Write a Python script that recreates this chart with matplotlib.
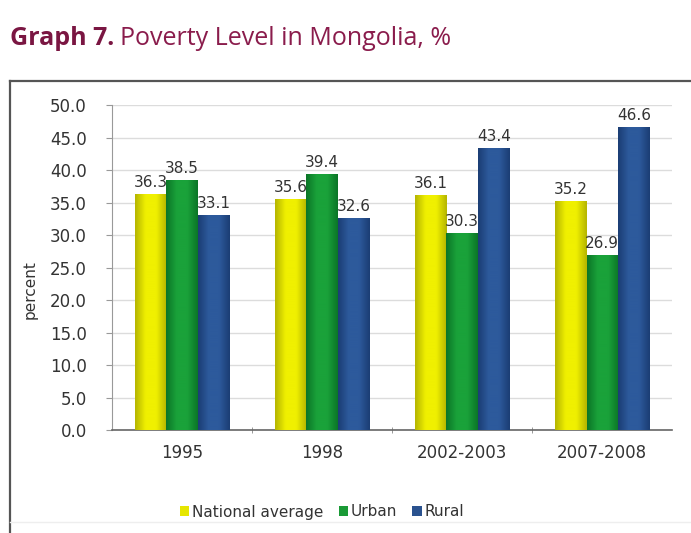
import matplotlib
matplotlib.use("Agg")
import matplotlib.pyplot as plt
import numpy as np
from matplotlib.colors import LinearSegmentedColormap
from matplotlib.lines import Line2D
from matplotlib.patches import Patch

# Poverty headcount by survey year
periods = ["1995", "1998", "2002-2003", "2007-2008"]
national = [36.3, 35.6, 36.1, 35.2]
urban = [38.5, 39.4, 30.3, 26.9]
rural = [33.1, 32.6, 43.4, 46.6]
series_names = ["National average", "Urban", "Rural"]

# (edge, middle) shades for each series
shades = [("#b5b500", "#f0f000"), ("#0b7527", "#1aa23a"), ("#1b3d74", "#2d5a9c")]
legend_colors = ["#e6e600", "#1a9a36", "#2a528f"]

fig = plt.figure(figsize=(6.91, 5.33), dpi=100)
ax = fig.add_axes([0.162, 0.193, 0.811, 0.610])

x = np.arange(len(periods))
width = 0.225
offsets = [-width, 0, width]

for vals, off, (edge, mid) in zip([national, urban, rural], offsets, shades):
    cmap = LinearSegmentedColormap.from_list("bar", [edge, mid, mid, edge])
    grad = np.linspace(0, 1, 64).reshape(1, -1)
    bars = ax.bar(x + off, vals, width, color=mid, linewidth=0, zorder=2)
    for b, v in zip(bars, vals):
        x0 = b.get_x()
        im = ax.imshow(grad, cmap=cmap, extent=(x0, x0 + width, 0, v),
                       aspect="auto", zorder=3, interpolation="bicubic")
        im.set_clip_path(b)
        ax.text(x0 + width / 2, v + 0.6, f"{v:.1f}", ha="center", va="bottom",
                fontsize=11, color="#333333", zorder=4)

ax.set_xlim(-0.5, len(periods) - 0.5)
ax.set_ylim(0, 50)
ax.set_yticks(np.arange(0, 50.1, 5))
ax.set_yticklabels([f"{t:.1f}" for t in np.arange(0, 50.1, 5)])
ax.set_xticks(x)
ax.set_xticklabels(periods)
ax.set_xticks(np.arange(0.5, len(periods) - 0.5, 1), minor=True)
ax.tick_params(axis="x", which="major", length=0, pad=10, labelsize=12, labelcolor="#333333")
ax.tick_params(axis="x", which="minor", length=4, color="#888888", direction="inout")
ax.tick_params(axis="y", length=4, color="#999999", labelsize=12, labelcolor="#333333", pad=14)

ax.yaxis.grid(True, color="#dcdcdc", linewidth=1)
ax.set_axisbelow(True)
for s in ["top", "right"]:
    ax.spines[s].set_visible(False)
ax.spines["left"].set_color("#999999")
ax.spines["bottom"].set_color("#666666")
ax.spines["bottom"].set_linewidth(1.2)

fig.text(30 / 691, 1 - 290 / 533, "percent", rotation=90, ha="center", va="center",
         fontsize=11, color="#333333")

# Legend below the plot
handles = [Patch(facecolor=c, edgecolor="none") for c in legend_colors]
fig.legend(handles, series_names, loc="center", bbox_to_anchor=(322 / 691, 1 - 512 / 533),
           ncol=3, frameon=False, fontsize=11, handlelength=0.6, handleheight=0.6,
           handletextpad=0.2, columnspacing=1.0, labelcolor="#333333")

# Title in two weights
title_color = "#8a1c4c"
t1 = fig.text(10 / 691, 1 - 45 / 533, "Graph 7.", fontsize=18, fontweight="bold",
              color="#7a1642", family="Open Sans", va="baseline")
fig.canvas.draw()
bb = t1.get_window_extent()
fig.text((bb.x1 + 6) / 691, 1 - 45 / 533, "Poverty Level in Mongolia, %", fontsize=18,
         color=title_color, family="Open Sans", va="baseline")

# Frame around the chart area
frame_y = 1 - 81 / 533
fig.add_artist(Line2D([10 / 691, 1], [frame_y, frame_y], color="#555555", lw=1.6))
fig.add_artist(Line2D([10 / 691, 10 / 691], [0, frame_y], color="#555555", lw=1.6))
fig.add_artist(Line2D([10 / 691, 1], [1 - 522 / 533, 1 - 522 / 533], color="#eeeeee", lw=1))

fig.savefig("out.png", dpi=100)
